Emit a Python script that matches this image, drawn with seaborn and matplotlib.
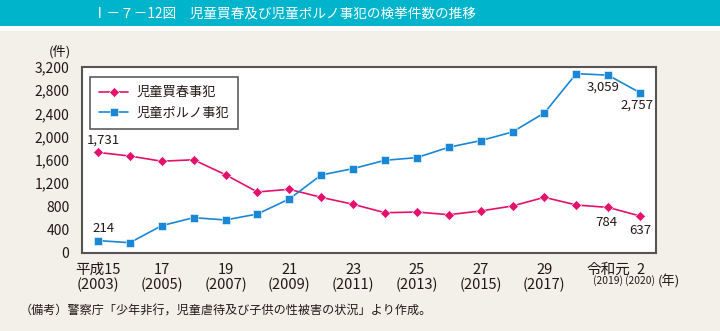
import matplotlib
matplotlib.use("Agg")
import matplotlib.pyplot as plt
import matplotlib.transforms as mtransforms
import seaborn as sns
import pandas as pd
import numpy as np

years = list(range(2003, 2021))
prostitution = [1731, 1668, 1579, 1604, 1347, 1050, 1096, 958, 838, 693, 705, 659, 723, 809, 958, 826, 784, 637]
pornography = [214, 177, 470, 608, 568, 671, 929, 1342, 1451, 1595, 1641, 1819, 1933, 2083, 2410, 3086, 3059, 2757]
series_names = ["児童買春事犯", "児童ポルノ事犯"]
x_labels = ["平成15\n(2003)", "", "17\n(2005)", "", "19\n(2007)", "", "21\n(2009)", "", "23\n(2011)", "",
            "25\n(2013)", "", "27\n(2015)", "", "29\n(2017)", "", "令和元", "2"]
reiwa_years = ["(2019)", "(2020)"]
y_ticks = [0, 400, 800, 1200, 1600, 2000, 2400, 2800, 3200]

sns.set_theme(style="white")
plt.rcParams['font.family'] = ['Noto Sans CJK JP', 'DejaVu Sans']

BG = "#f3f0e9"
PINK = "#e5106b"
BLUE = "#1a86d6"
TEAL = "#00b4cc"
TXT = "#231815"

df = pd.DataFrame({
    "idx": list(range(len(years))) * 2,
    "value": prostitution + pornography,
    "series": [series_names[0]] * len(years) + [series_names[1]] * len(years),
})

fig = plt.figure(figsize=(7.2, 3.31), dpi=100)
fig.patch.set_facecolor(BG)

# title bar
fig.patches.append(plt.Rectangle((0, 1 - 26 / 331), 1, 26 / 331, transform=fig.transFigure,
                                 facecolor=TEAL, edgecolor="none", zorder=0))
fig.patches.append(plt.Rectangle((0, 1 - 31 / 331), 1, 5 / 331, transform=fig.transFigure,
                                 facecolor="white", edgecolor="none", zorder=0))
fig.text(93 / 720, 1 - 13 / 331, "Ⅰ－７－12図　児童買春及び児童ポルノ事犯の検挙件数の推移",
         color="white", fontsize=9.8, va="center", ha="left")

ax = fig.add_axes([82 / 720, 1 - 253 / 331, (656 - 82) / 720, (253 - 67) / 331])
ax.set_facecolor("white")

sns.lineplot(data=df, x="idx", y="value", hue="series", style="series",
             palette={series_names[0]: PINK, series_names[1]: BLUE},
             markers={series_names[0]: "D", series_names[1]: "s"},
             dashes=False, markersize=5.5, markeredgewidth=0.4, linewidth=1.2, ax=ax)

ax.set_xlim(-0.5, len(years) - 0.5)
ax.set_ylim(0, 3200)
ax.set_yticks(y_ticks)
ax.set_yticklabels([f"{v:,}" for v in y_ticks], fontsize=10, color=TXT)
ax.set_xticks(range(len(years)))
ax.set_xticklabels(x_labels, fontsize=10.5, color=TXT, linespacing=1.1)
ax.set_xlabel("")
ax.set_ylabel("")
ax.tick_params(axis="both", which="major", direction="out", length=6, width=1, color="#555555", pad=1)
ax.tick_params(axis="y", pad=3)
for s in ax.spines.values():
    s.set_color("#555555")
    s.set_linewidth(1.5)

# small year labels for Reiwa
trans = mtransforms.blended_transform_factory(ax.transData, fig.transFigure)
for i, t in enumerate(reiwa_years):
    ax.text(16 + i, 1 - 281 / 331, t, transform=trans, fontsize=7.4, ha="center", va="center", color=TXT)
fig.text(669 / 720, 1 - 281 / 331, "(年)", fontsize=9.5, ha="center", va="center", color=TXT)
fig.text(60 / 720, 1 - 52 / 331, "(件)", fontsize=9.5, ha="center", va="center", color=TXT)

# data labels
lab = dict(fontsize=9.5, color=TXT)
ax.annotate(f"{prostitution[0]:,}", (0, prostitution[0]), xytext=(4, 4), textcoords="offset points", ha="center", va="bottom", **lab)
ax.annotate(f"{pornography[0]:,}", (0, pornography[0]), xytext=(4, 4), textcoords="offset points", ha="center", va="bottom", **lab)
ax.annotate(f"{pornography[16]:,}", (16, pornography[16]), xytext=(-4, -4), textcoords="offset points", ha="center", va="top", **lab)
ax.annotate(f"{pornography[17]:,}", (17, pornography[17]), xytext=(-2, -4), textcoords="offset points", ha="center", va="top", **lab)
ax.annotate(f"{prostitution[16]:,}", (16, prostitution[16]), xytext=(-1, -6), textcoords="offset points", ha="center", va="top", **lab)
ax.annotate(f"{prostitution[17]:,}", (17, prostitution[17]), xytext=(0, -6), textcoords="offset points", ha="center", va="top", **lab)

leg = ax.legend(loc="upper left", bbox_to_anchor=(8 / 574, 1 - 10 / 186), fontsize=9.5, frameon=True,
                fancybox=False, edgecolor="#333333", handlelength=2.2, borderpad=0.7, labelspacing=0.55,
                handletextpad=0.6, borderaxespad=0)
leg.get_frame().set_linewidth(1.2)
for t in leg.get_texts():
    t.set_color(TXT)

fig.text(20 / 720, 1 - 311 / 331, "（備考）警察庁「少年非行，児童虐待及び子供の性被害の状況」より作成。",
         fontsize=8.7, ha="left", va="center", color=TXT)

fig.savefig("out.png", dpi=100, facecolor=BG)
